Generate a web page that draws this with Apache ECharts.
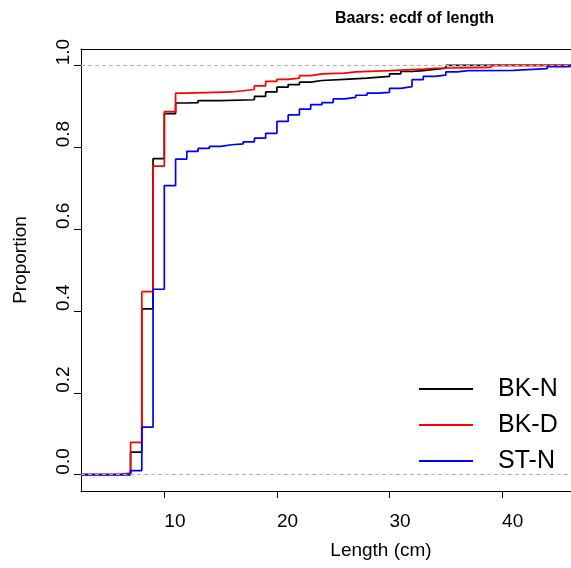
<!DOCTYPE html>
<html><head><meta charset="utf-8">
<script src="https://cdn.jsdelivr.net/npm/echarts@6/dist/echarts.min.js"></script>
<style>html,body{margin:0;padding:0;background:#fff}#c{width:571px;height:568px}</style>
</head><body><div id="c"></div>
<script>
const seriesNames = ['BK-N', 'BK-D', 'ST-N'];
const seriesColors = ['#000000', '#FF0000', '#0000FF'];
const bkNKnots  = [7, 8, 9, 10, 11, 12, 13, 15, 18, 19, 20, 21, 22, 23, 24, 26, 28, 30, 31, 32, 33, 34, 35];
const bkNValues = [0.055, 0.405, 0.772, 0.882, 0.908, 0.909, 0.914, 0.916, 0.924, 0.935, 0.947, 0.953, 0.959, 0.963, 0.966, 0.969, 0.973, 0.979, 0.985, 0.987, 0.990, 0.993, 1.0];
const bkDKnots  = [6, 7, 8, 9, 10, 11, 12, 16, 17, 18, 19, 20, 21, 22, 23, 24, 26, 27, 30, 33, 34, 39];
const bkDValues = [0.004, 0.079, 0.447, 0.754, 0.887, 0.932, 0.935, 0.938, 0.941, 0.950, 0.961, 0.966, 0.969, 0.975, 0.979, 0.981, 0.984, 0.987, 0.991, 0.993, 0.995, 1.0];
const stNKnots  = [7, 8, 9, 10, 11, 12, 13, 14, 15, 16, 17, 18, 19, 20, 21, 22, 23, 24, 25, 26, 27, 28, 29, 30, 31, 32, 33, 34, 35, 36, 37, 41, 44, 46];
const stNValues = [0.010, 0.116, 0.453, 0.706, 0.771, 0.790, 0.797, 0.802, 0.806, 0.808, 0.813, 0.822, 0.834, 0.863, 0.879, 0.893, 0.904, 0.909, 0.918, 0.922, 0.927, 0.932, 0.934, 0.944, 0.948, 0.965, 0.973, 0.976, 0.984, 0.987, 0.988, 0.992, 0.997, 1.0];
const xTicks = [10, 20, 30, 40];
const yTicks = [0, 0.2, 0.4, 0.6, 0.8, 1.0];
const refLines = [0, 1];

const X_MIN = 2.6, X_MAX = 46.12, Y_MIN = -0.04, Y_MAX = 1.04;
const FONT = '"Liberation Sans", Arial, Helvetica, sans-serif';

function ecdfData(knots, vals) {
  const d = [[X_MIN, 0]];
  knots.forEach((k, i) => d.push([k, vals[i]]));
  d.push([X_MAX, vals[vals.length - 1]]);
  return d;
}
const allKnots = [bkNKnots, bkDKnots, stNKnots];
const allValues = [bkNValues, bkDValues, stNValues];

const chart = echarts.init(document.getElementById('c'), null, {renderer: 'canvas'});
const series = seriesNames.map((name, i) => ({
  name: name,
  type: 'line',
  step: 'end',
  data: ecdfData(allKnots[i], allValues[i]),
  symbol: 'none',
  showSymbol: false,
  clip: true,
  color: seriesColors[i],
  lineStyle: {color: seriesColors[i], width: 1.7},
  z: 2 + i
}));
series.push({
  name: 'ref',
  type: 'line',
  data: [],
  symbol: 'none',
  markLine: {
    silent: true,
    symbol: 'none',
    label: {show: false},
    z: 10,
    lineStyle: {color: '#B3B3B3', type: [4, 3], width: 1},
    data: refLines.map(v => ({yAxis: v}))
  }
});

chart.setOption({
  animation: false,
  backgroundColor: '#ffffff',
  title: {
    text: 'Baars: ecdf of length',
    left: 330, top: 6,
    textStyle: {fontFamily: FONT, fontSize: 16, fontWeight: 'bold', color: '#000'}
  },
  legend: {
    data: seriesNames.map(n => ({name: n, icon: 'rect'})),
    orient: 'vertical',
    left: 414, top: 370,
    itemWidth: 54, itemHeight: 2, itemGap: 8,
    textStyle: {fontFamily: FONT, fontSize: 25, color: '#000', padding: [0, 0, 0, 20], lineHeight: 28}
  },
  grid: {left: 81, right: 0, top: 49, bottom: 77, containLabel: false},
  xAxis: [{
    type: 'value', min: X_MIN, max: X_MAX,
    name: 'Length (cm)', nameLocation: 'middle', nameGap: 50,
    nameTextStyle: {fontFamily: FONT, fontSize: 19, color: '#000', padding: [0, 0, 0, 110]},
    axisLine: {show: true, onZero: false, lineStyle: {color: '#000', width: 1}},
    axisTick: {show: true, length: 7, inside: false, customValues: xTicks, lineStyle: {color: '#000'}},
    axisLabel: {customValues: xTicks, margin: 21, align: 'left', fontFamily: FONT, fontSize: 19, color: '#000'},
    splitLine: {show: false}
  }, {
    type: 'value', min: X_MIN, max: X_MAX, position: 'top',
    axisLine: {show: true, onZero: false, lineStyle: {color: '#000', width: 1}},
    axisTick: {show: false}, axisLabel: {show: false}, splitLine: {show: false}
  }],
  yAxis: {
    type: 'value', min: Y_MIN, max: Y_MAX,
    name: 'Proportion', nameLocation: 'middle', nameGap: 51,
    nameTextStyle: {fontFamily: FONT, fontSize: 19, color: '#000', padding: [0, 0, 0, 20]},
    axisLine: {show: true, onZero: false, lineStyle: {color: '#000', width: 1}},
    axisTick: {show: true, length: 7, customValues: yTicks, lineStyle: {color: '#000'}},
    axisLabel: {customValues: yTicks, rotate: 90, margin: 8, align: 'left', fontFamily: FONT, fontSize: 19, color: '#000',
                formatter: v => Number(v).toFixed(1)},
    splitLine: {show: false}
  },
  series: series
});
</script></body></html>
